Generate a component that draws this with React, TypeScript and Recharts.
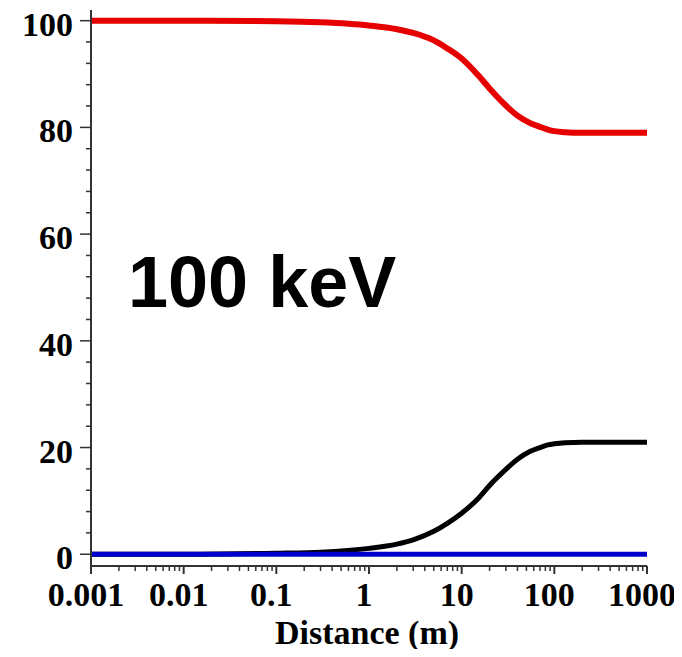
import React from 'react';
import { LineChart, Line, XAxis, YAxis } from 'recharts';

const distance = [0.001, 0.01, 0.1, 0.3, 1, 2, 3, 5, 7, 10, 15, 20, 30, 40, 55, 70, 85, 100, 130, 200, 1000];
const redSeries = [100, 100, 99.9, 99.7, 99.1, 98.4, 97.7, 96.3, 94.8, 92.9, 89.8, 87.3, 84.1, 82.2, 80.8, 80.1, 79.6, 79.3, 79.1, 79.0, 79.0];
const blackSeries = [0, 0, 0.2, 0.4, 1.1, 1.9, 2.7, 4.3, 5.8, 7.7, 10.4, 12.9, 15.9, 17.8, 19.3, 20.0, 20.5, 20.7, 20.9, 21.0, 21.0];
const blueSeries = [0, 0, 0, 0, 0, 0, 0, 0, 0, 0, 0, 0, 0, 0, 0, 0, 0, 0, 0, 0, 0];

const xMajorTicks = [0.001, 0.01, 0.1, 1, 10, 100, 1000];
const xMinorMultipliers = [2, 3, 4, 5, 6, 7, 8, 9];
const yMajorTicks = [0, 20, 40, 60, 80, 100];
const yMinorTicks = [4, 8, 12, 16, 24, 28, 32, 36, 44, 48, 52, 56, 64, 68, 72, 76, 84, 88, 92, 96];

const annotation = '100 keV';
const xLabel = 'Distance (m)';

const xMinorTicks: number[] = [];
xMajorTicks.slice(0, -1).forEach((d) => xMinorMultipliers.forEach((m) => xMinorTicks.push(+(d * m).toPrecision(3))));
const xAllTicks = [...xMajorTicks, ...xMinorTicks].sort((a, b) => a - b);
const yAllTicks = [...yMajorTicks, ...yMinorTicks].sort((a, b) => a - b);

const data = distance.map((d, i) => ({ d, red: redSeries[i], black: blackSeries[i], blue: blueSeries[i] }));

const serif = '"Liberation Serif", "Times New Roman", serif';
const axisColor = '#333';

const XTick = (props: any) => {
  const { x, y, payload } = props;
  const major = xMajorTicks.includes(payload.value);
  return (
    <g>
      <line x1={x} x2={x} y1={y} y2={y + (major ? 8 : 5)} stroke={axisColor} strokeWidth={major ? 2 : 1.5} />
      {major && (
        <text x={x - 5} y={y + 40} textAnchor="middle" fontFamily={serif} fontWeight="bold" fontSize={34} fill="#000">
          {String(payload.value)}
        </text>
      )}
    </g>
  );
};

const YTick = (props: any) => {
  const { x, y, payload } = props;
  const major = yMajorTicks.includes(payload.value);
  return (
    <g>
      <line x1={x - (major ? 11 : 5)} x2={x} y1={y} y2={y} stroke={axisColor} strokeWidth={1.5} />
      {major && (
        <text x={x - 18} y={y + 15} textAnchor="end" fontFamily={serif} fontWeight="bold" fontSize={34} fill="#000">
          {String(payload.value)}
        </text>
      )}
    </g>
  );
};

const XLabel = (props: any) => {
  const vb = props.viewBox || {};
  const cx = vb.x + vb.width / 2;
  const by = vb.y + vb.height - 13;
  return (
    <text x={cx - 2} y={by} textAnchor="middle" fontFamily={serif} fontWeight="bold" fontSize={34} fill="#000">
      {xLabel}
    </text>
  );
};

export default function App() {
  return (
    <div style={{ margin: -8, position: 'relative', width: 682, height: 657, background: '#fff' }}>
      <LineChart width={682} height={657} data={data} margin={{ top: 10, right: 35, bottom: 0, left: 0 }}>
        <XAxis
          dataKey="d"
          type="number"
          scale="log"
          domain={[0.001, 1000]}
          allowDataOverflow
          ticks={xAllTicks}
          interval={0}
          tick={<XTick />}
          tickSize={0}
          tickMargin={0}
          tickLine={false}
          axisLine={{ stroke: axisColor, strokeWidth: 2 }}
          height={91}
          label={<XLabel />}
        />
        <YAxis
          type="number"
          domain={[-2.2, 102]}
          allowDataOverflow
          ticks={yAllTicks}
          interval={0}
          tick={<YTick />}
          tickSize={0}
          tickMargin={0}
          tickLine={false}
          axisLine={{ stroke: axisColor, strokeWidth: 2 }}
          width={91}
        />
        <Line dataKey="red" type="monotone" stroke="#e60000" strokeWidth={6} dot={false} isAnimationActive={false} />
        <Line dataKey="black" type="monotone" stroke="#000000" strokeWidth={5} dot={false} isAnimationActive={false} />
        <Line dataKey="blue" type="monotone" stroke="#0000cc" strokeWidth={5} dot={false} isAnimationActive={false} />
      </LineChart>
      <div
        style={{
          position: 'absolute',
          left: 128,
          top: 246,
          fontFamily: '"Liberation Sans", Arial, sans-serif',
          fontWeight: 'bold',
          fontSize: 72,
          lineHeight: 1,
          color: '#000',
          whiteSpace: 'nowrap',
        }}
      >
        {annotation}
      </div>
    </div>
  );
}
